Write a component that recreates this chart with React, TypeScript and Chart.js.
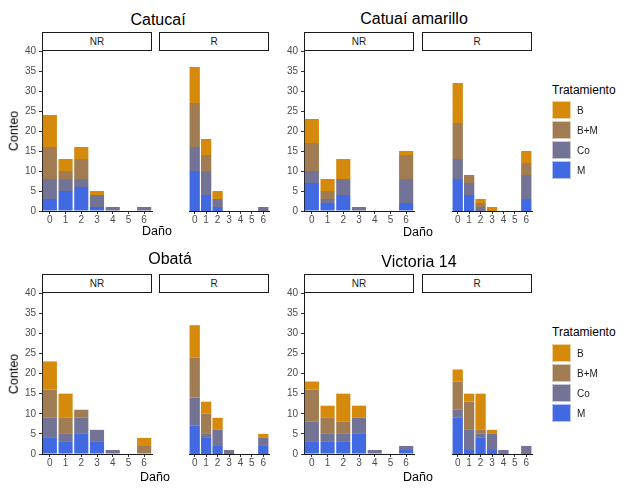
import React, { useEffect, useRef } from 'react';
import { Chart, registerables } from 'chart.js';

Chart.register(...registerables);

// ---- data ----
const damageLabels = ['0', '1', '2', '3', '4', '5', '6'];
const stackOrder = ['M', 'Co', 'B+M', 'B']; // bottom -> top
const legendOrder = ['B', 'B+M', 'Co', 'M'];
const yTicks = [0, 40];

const catucaiNR_M = [3, 5, 6, 1, 0, 0, 0];
const catucaiNR_Co = [5, 3, 2, 3, 1, 0, 1];
const catucaiNR_BM = [8, 2, 5, 0, 0, 0, 0];
const catucaiNR_B = [8, 3, 3, 1, 0, 0, 0];
const catucaiR_M = [10, 4, 1, 0, 0, 0, 0];
const catucaiR_Co = [6, 6, 2, 0, 0, 0, 1];
const catucaiR_BM = [11, 4, 0, 0, 0, 0, 0];
const catucaiR_B = [9, 4, 2, 0, 0, 0, 0];

const amarilloNR_M = [7, 2, 4, 0, 0, 0, 2];
const amarilloNR_Co = [3, 1, 4, 1, 0, 0, 6];
const amarilloNR_BM = [7, 2, 0, 0, 0, 0, 6];
const amarilloNR_B = [6, 3, 5, 0, 0, 0, 1];
const amarilloR_M = [8, 4, 0, 0, 0, 0, 3];
const amarilloR_Co = [5, 3, 1, 0, 0, 0, 6];
const amarilloR_BM = [9, 2, 1, 0, 0, 0, 3];
const amarilloR_B = [10, 0, 1, 1, 0, 0, 3];

const obataNR_M = [4, 3, 5, 3, 0, 0, 0];
const obataNR_Co = [5, 2, 4, 3, 1, 0, 0];
const obataNR_BM = [7, 4, 2, 0, 0, 0, 2];
const obataNR_B = [7, 6, 0, 0, 0, 0, 2];
const obataR_M = [7, 4, 2, 0, 0, 0, 2];
const obataR_Co = [7, 1, 4, 1, 0, 0, 2];
const obataR_BM = [10, 5, 0, 0, 0, 0, 0];
const obataR_B = [8, 3, 3, 0, 0, 0, 1];

const victoriaNR_M = [3, 3, 3, 5, 0, 0, 1];
const victoriaNR_Co = [5, 2, 2, 4, 1, 0, 1];
const victoriaNR_BM = [8, 4, 3, 0, 0, 0, 0];
const victoriaNR_B = [2, 3, 7, 3, 0, 0, 0];
const victoriaR_M = [9, 1, 4, 1, 0, 0, 0];
const victoriaR_Co = [2, 5, 1, 4, 1, 0, 2];
const victoriaR_BM = [7, 7, 1, 0, 0, 0, 0];
const victoriaR_B = [3, 2, 9, 1, 0, 0, 0];

// ---- styles ----
const COLORS: Record<string, string> = {
  B: '#D58A0C',
  'B+M': '#A17B51',
  Co: '#737396',
  M: '#4169E1',
};
const FONT = '"Liberation Sans", Arial, Helvetica, sans-serif';
const PAD_TOP = 10;
const PAD_SIDE = 4;
const Y_W = 30;
const X_H = 26;

type PanelProps = {
  left: number;
  top: number;
  width: number;
  height: number;
  series: number[][];
  showY: boolean;
};

function Panel({ left, top, width, height, series, showY }: PanelProps) {
  const ref = useRef<HTMLCanvasElement>(null);
  const yw = showY ? Y_W : 0;
  const cw = width + 2 * PAD_SIDE + yw;
  const ch = height + PAD_TOP + X_H;
  useEffect(() => {
    const chart = new Chart(ref.current as HTMLCanvasElement, {
      type: 'bar',
      data: {
        labels: damageLabels,
        datasets: stackOrder.map((t, i) => ({
          label: t,
          data: series[i],
          backgroundColor: COLORS[t],
          borderWidth: 0,
          barPercentage: 0.9,
          categoryPercentage: 1,
        })),
      },
      options: {
        animation: false,
        responsive: false,
        maintainAspectRatio: false,
        layout: { padding: { top: PAD_TOP, left: PAD_SIDE, right: PAD_SIDE, bottom: 0 } },
        plugins: { legend: { display: false }, tooltip: { enabled: false }, title: { display: false } },
        scales: {
          x: {
            stacked: true,
            offset: true,
            grid: { offset: false, drawOnChartArea: false, drawTicks: true, tickLength: 3, color: '#333', lineWidth: 1 },
            border: { display: true, color: '#1a1a1a', width: 1 },
            ticks: { font: { family: FONT, size: 10 }, color: '#4d4d4d', padding: 0, maxRotation: 0, autoSkip: false },
            afterFit: (s: any) => {
              s.height = X_H;
            },
          },
          y: {
            stacked: true,
            display: showY,
            min: yTicks[0],
            max: yTicks[1],
            grid: { drawOnChartArea: false, drawTicks: true, tickLength: 3, color: '#333', lineWidth: 1 },
            border: { display: true, color: '#1a1a1a', width: 1 },
            ticks: { stepSize: 5, font: { family: FONT, size: 10 }, color: '#4d4d4d', padding: 3 },
            afterFit: (s: any) => {
              s.width = Y_W;
            },
          },
        },
      },
    });
    return () => chart.destroy();
  }, []);
  return (
    <div style={{ position: 'absolute', left: left - PAD_SIDE - yw, top: top - PAD_TOP, width: cw, height: ch }}>
      <canvas ref={ref} width={cw} height={ch} style={{ width: cw, height: ch, display: 'block' }} />
    </div>
  );
}

function Txt({ x, y, size, children, align = 'center', color = '#000' }: any) {
  const tx = align === 'center' ? '-50%' : '0';
  return (
    <div
      style={{
        position: 'absolute',
        left: x,
        top: y,
        transform: `translate(${tx}, -50%)`,
        fontFamily: FONT,
        fontSize: size,
        lineHeight: 1,
        whiteSpace: 'nowrap',
        color,
      }}
    >
      {children}
    </div>
  );
}

function RotTxt({ x, y, size, children }: any) {
  return (
    <div
      style={{
        position: 'absolute',
        left: x,
        top: y,
        transform: 'translate(-50%, -50%) rotate(-90deg)',
        fontFamily: FONT,
        fontSize: size,
        lineHeight: 1,
        whiteSpace: 'nowrap',
        color: '#000',
      }}
    >
      {children}
    </div>
  );
}

function Strip({ x, y, w, label }: any) {
  return (
    <div
      style={{
        position: 'absolute',
        left: x,
        top: y,
        width: w,
        height: 19,
        boxSizing: 'border-box',
        border: '1px solid #1a1a1a',
        background: '#fff',
        fontFamily: FONT,
        fontSize: 10,
        color: '#1a1a1a',
        display: 'flex',
        alignItems: 'center',
        justifyContent: 'center',
      }}
    >
      {label}
    </div>
  );
}

function Legend({ x, titleY, keyTop }: any) {
  return (
    <>
      <Txt x={x} y={titleY} size={12} align="left">
        Tratamiento
      </Txt>
      {legendOrder.map((t, i) => (
        <React.Fragment key={t}>
          <div
            style={{
              position: 'absolute',
              left: x,
              top: keyTop + i * 20,
              width: 19,
              height: 18,
              boxSizing: 'border-box',
              background: COLORS[t],
              border: '1px solid rgba(255,255,255,0.6)',
            }}
          />
          <Txt x={x + 25} y={keyTop + i * 20 + 9.5} size={10} align="left" color="#1a1a1a">
            {t}
          </Txt>
        </React.Fragment>
      ))}
    </>
  );
}

type PlotDef = {
  title: string;
  titleX: number;
  titleY: number;
  stripTop: number;
  plotTop: number;
  plotBottom: number;
  nrX: number;
  rX: number;
  w: number;
  left: boolean;
  danoX: number;
  danoY: number;
  nr: number[][];
  r: number[][];
};

const plots: PlotDef[] = [
  {
    title: 'Catucaí', titleX: 158, titleY: 20, stripTop: 32, plotTop: 51, plotBottom: 211,
    nrX: 42, rX: 159, w: 110, left: true, danoX: 157, danoY: 231,
    nr: [catucaiNR_M, catucaiNR_Co, catucaiNR_BM, catucaiNR_B],
    r: [catucaiR_M, catucaiR_Co, catucaiR_BM, catucaiR_B],
  },
  {
    title: 'Catuaí amarillo', titleX: 414, titleY: 19, stripTop: 32, plotTop: 51, plotBottom: 211,
    nrX: 304, rX: 422, w: 110, left: false, danoX: 418, danoY: 232,
    nr: [amarilloNR_M, amarilloNR_Co, amarilloNR_BM, amarilloNR_B],
    r: [amarilloR_M, amarilloR_Co, amarilloR_BM, amarilloR_B],
  },
  {
    title: 'Obatá', titleX: 170, titleY: 259, stripTop: 274, plotTop: 293, plotBottom: 454,
    nrX: 42, rX: 159, w: 110, left: true, danoX: 155, danoY: 477,
    nr: [obataNR_M, obataNR_Co, obataNR_BM, obataNR_B],
    r: [obataR_M, obataR_Co, obataR_BM, obataR_B],
  },
  {
    title: 'Victoria 14', titleX: 419, titleY: 262, stripTop: 274, plotTop: 293, plotBottom: 454,
    nrX: 304, rX: 422, w: 110, left: false, danoX: 418, danoY: 477,
    nr: [victoriaNR_M, victoriaNR_Co, victoriaNR_BM, victoriaNR_B],
    r: [victoriaR_M, victoriaR_Co, victoriaR_BM, victoriaR_B],
  },
];

export default function App() {
  return (
    <div style={{ position: 'absolute', left: 0, top: 0, width: 629, height: 489, background: '#fff', overflow: 'hidden' }}>
      {plots.map((p) => {
        const h = p.plotBottom - p.plotTop;
        return (
          <React.Fragment key={p.title}>
            <Txt x={p.titleX} y={p.titleY} size={16}>
              {p.title}
            </Txt>
            <Panel left={p.nrX} top={p.plotTop} width={p.w} height={h} series={p.nr} showY={true} />
            <Panel left={p.rX} top={p.plotTop} width={p.w} height={h} series={p.r} showY={false} />
            <Strip x={p.nrX} y={p.stripTop} w={p.w} label="NR" />
            <Strip x={p.rX} y={p.stripTop} w={p.w} label="R" />
            <Txt x={p.danoX} y={p.danoY} size={12.5}>
              Daño
            </Txt>
            {p.left && (
              <RotTxt x={14} y={(p.plotTop + p.plotBottom) / 2} size={12.5}>
                Conteo
              </RotTxt>
            )}
          </React.Fragment>
        );
      })}
      <Legend x={552} titleY={89.5} keyTop={101} />
      <Legend x={552} titleY={332} keyTop={344} />
    </div>
  );
}
